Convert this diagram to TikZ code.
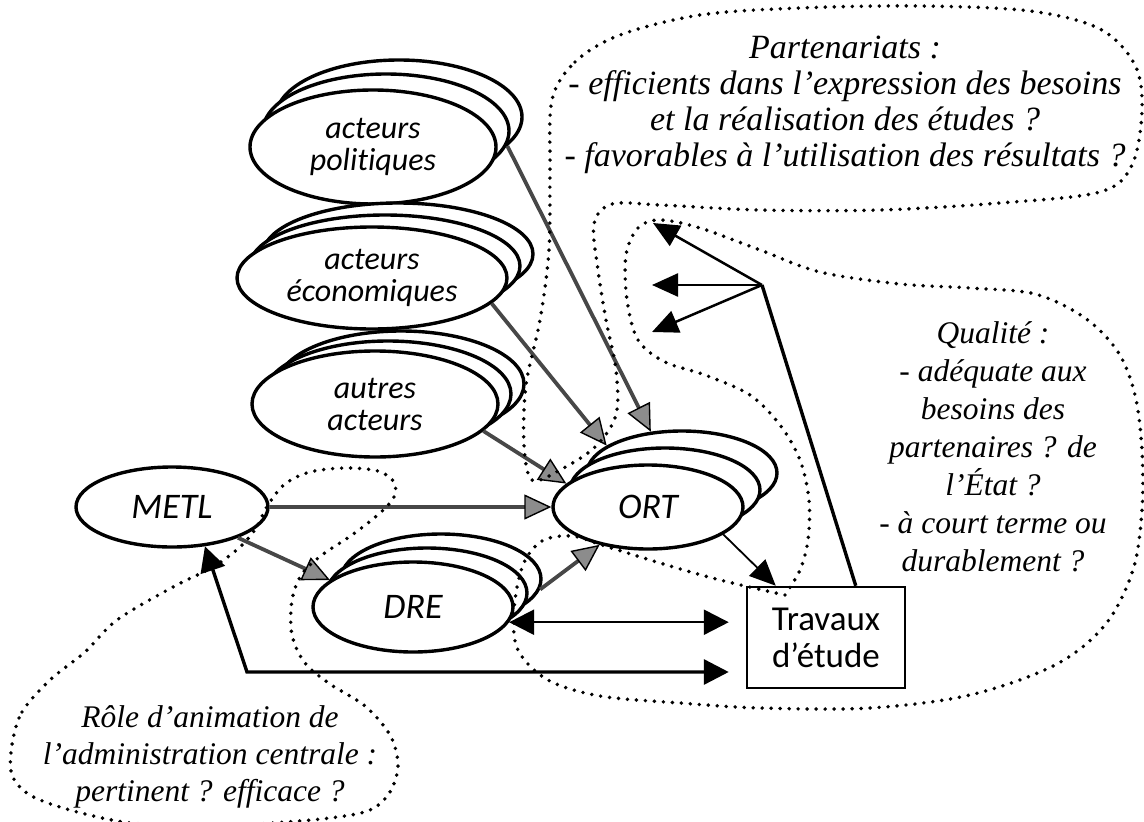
\documentclass[tikz,border=0pt]{standalone}
\usepackage{fontspec}
\setmainfont{Liberation Serif}
\newfontfamily\labelfont[Ligatures={TeX,NoCommon}]{Carlito}
\usetikzlibrary{shapes.geometric,arrows.meta,calc}

\tikzset{
  actor/.style={ellipse, draw, line width=3.4pt, fill=white, inner sep=0pt,
    align=center, font=\labelfont\itshape\fontsize{32}{32}\selectfont},
  unit/.style={actor, font=\labelfont\itshape\fontsize{36}{38}\selectfont},
  polsize/.style={minimum width=246pt, minimum height=114pt},
  ecosize/.style={minimum width=270pt, minimum height=102pt},
  autsize/.style={minimum width=246pt, minimum height=106pt},
  ortsize/.style={minimum width=190pt, minimum height=84pt},
  dresize/.style={minimum width=200pt, minimum height=90pt},
  grayarrow/.style={draw=black!72, line width=3.8pt,
    -{Triangle[length=27pt,width=25pt,line width=1.4pt,color=black,fill=black!45]}},
  blackarrow/.style={draw=black, line width=2.5pt, -{Triangle[length=26pt,width=23pt]}},
  biarrow/.style={draw=black, line width=2.5pt,
    {Triangle[length=25pt,width=25pt]}-{Triangle[length=25pt,width=25pt]}},
  dotline/.style={line width=3.9pt, line cap=round, dash pattern=on 0pt off 9pt},
  note/.style={font=\itshape\fontsize{31.5}{37}\selectfont, align=center, inner sep=0pt},
}

\begin{document}
\begin{tikzpicture}[x=1pt, y=-1pt]
\useasboundingbox (0,0) rectangle (1144,822);

% ---- actor stacks (back copies first) ----
\node[actor, polsize] (pol2) at (399,117) {};
\node[actor, polsize] (pol1) at (386,131) {};
\node[actor, polsize] (pol)  at (373,147) {acteurs\\politiques};

\node[actor, ecosize] (eco2) at (398,254) {};
\node[actor, ecosize] (eco1) at (385,266) {};
\node[actor, ecosize] (eco)  at (372,278) {acteurs\\économiques};

\node[actor, autsize] (aut2) at (401,384) {};
\node[actor, autsize] (aut1) at (388,394) {};
\node[actor, autsize] (aut)  at (375,404) {autres\\acteurs};

\node[unit, minimum width=192pt, minimum height=80pt] (metl) at (172,507) {METL};

\node[unit, ortsize] (ort2) at (682,473) {};
\node[unit, ortsize] (ort1) at (665,490) {};
\node[unit, ortsize] (ort)  at (648,507) {ORT};

\node[unit, dresize] (dre2) at (441,579) {};
\node[unit, dresize] (dre1) at (427,593) {};
\node[unit, dresize] (dre)  at (413,607) {DRE};

\node[draw, line width=2.5pt, minimum width=158pt, minimum height=101pt, inner sep=0pt,
      align=center, font=\labelfont\fontsize{35}{37}\selectfont] (trav) at (826,637.5)
      {Travaux\\d’étude};

% ---- grey influence arrows ----
\draw[grayarrow] (pol2.-15) -- (ort2.127);
\draw[grayarrow] (eco.-12) -- (ort2.160);
\draw[grayarrow] (aut.-14) -- (ort.164);
\draw[grayarrow] (metl) -- (ort);
\draw[grayarrow] (metl.-25) -- (dre.162);
\draw[grayarrow] (dre2.-6) -- (ort.218);

% ---- black arrows around the studies ----
\draw[draw=black, line width=1.8pt, -{Triangle[length=26pt,width=23pt]}]
  (ort.-20) -- ([xshift=30pt]trav.north west);
\draw[biarrow, shorten >=17pt] (dre.-9) -- (dre.-9 -| trav.west);
\coordinate (corner) at (247,672);
\draw[biarrow, line width=3.4pt, shorten >=17pt] (metl.-50) -- (corner) -- (corner -| trav.west);

\coordinate (hub) at (762,285);
\coordinate (q1) at (653,223);
\coordinate (q2) at (652,285);
\coordinate (q3) at (652,332);
\draw[line width=3.4pt] ([xshift=110pt]trav.north west) -- (hub);
\draw[blackarrow] (hub) -- (q1);
\draw[blackarrow] (hub) -- (q2);
\draw[blackarrow] (hub) -- (q3);

% ---- dotted outlines ----
\draw[dotline] plot[smooth cycle, tension=0.55] coordinates {
  (552,100) (575,62) (620,35) (700,15) (800,8) (920,6) (1030,11) (1100,29)
  (1135,65) (1142,110) (1132,165) (1100,192) (1000,203) (880,210) (760,210)
  (660,205) (612,204) (594,224) (598,270) (606,320) (616,370) (616,415)
  (595,447) (560,470) (532,480) (524,445) (526,385) (540,320) (549,250) (550,170)};

\draw[dotline] plot[smooth, tension=0.55] coordinates {
  (785,595) (800,570) (808,540) (809,500) (800,460) (780,425) (750,395)
  (705,375) (665,362) (638,340) (627,300) (626,255) (638,228) (660,220)
  (700,228) (760,250) (820,272) (900,284) (970,288) (1035,294) (1085,318)
  (1118,352) (1135,395) (1142,450) (1142,510) (1133,570) (1105,625)
  (1055,665) (970,695) (870,708) (760,708) (680,703) (600,696) (548,680)
  (518,650) (514,610) (523,565) (542,541) (572,536) (605,546) (660,563)
  (720,580) (785,595)};

\draw[dotline] plot[smooth cycle, tension=0.55] coordinates {
  (12,745) (22,712) (50,680) (85,652) (117,620) (173,587) (213,567) (240,547)
  (256,528) (268,505) (285,484) (310,472) (345,468) (378,471) (394,482)
  (394,497) (380,513) (352,535) (322,555) (302,574) (292,600) (292,635)
  (305,663) (330,684) (365,706) (390,735) (398,765) (390,792) (370,810)
  (330,818) (260,824) (200,827) (130,823) (70,810) (30,795) (12,775)};

% ---- questions ----
\node[note, font=\itshape\fontsize{34}{36}\selectfont] (part) at (845,105)
  {Partenariats :\\- efficients dans l’expression des besoins\\et la réalisation des études ?\\- favorables à l’utilisation des résultats ?};
\node[note, font=\itshape\fontsize{31.5}{38}\selectfont] (qual) at (993,447)
  {Qualité :\\- adéquate aux\\besoins des\\partenaires ? de\\l’État ?\\- à court terme ou\\durablement ?};
\node[note] (role) at (210,757)
  {Rôle d’animation de\\l’administration centrale :\\pertinent ? efficace ?};
\end{tikzpicture}
\end{document}
